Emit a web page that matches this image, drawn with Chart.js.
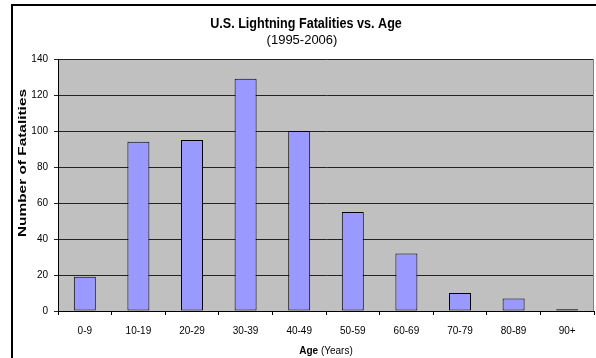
<!DOCTYPE html>
<html>
<head>
<meta charset="utf-8">
<script src="https://cdn.jsdelivr.net/npm/chart.js@4/dist/chart.umd.min.js"></script>
<style>
  html, body { margin: 0; padding: 0; background: #fff; }
  canvas { display: block; }
</style>
</head>
<body>
<canvas id="chart" width="596" height="358"></canvas>
<script>
// Lightning deaths in the U.S., 1995-2006, grouped by age band
const ageGroups = ['0-9', '10-19', '20-29', '30-39', '40-49', '50-59', '60-69', '70-79', '80-89', '90+'];
const fatalities = [19, 94, 95, 129, 100, 55, 32, 10, 7, 1];

const titleText = 'U.S. Lightning Fatalities vs. Age';
const subtitleText = '(1995-2006)';
const xTitleBold = 'Age';
const xTitleRest = ' (Years)';
const yTitleText = 'Number of Fatalities';

const FONT = '"Liberation Sans", Arial, sans-serif';

// Frame, grey plot background and all titles
const decorations = {
  id: 'decorations',
  beforeDraw(chart) {
    const { ctx, chartArea: a } = chart;
    ctx.save();
    ctx.fillStyle = '#fff';
    ctx.fillRect(0, 0, chart.width, chart.height);
    // outer chart frame
    ctx.strokeStyle = '#000';
    ctx.lineWidth = 2;
    ctx.strokeRect(12, 5, chart.width + 20, chart.height + 20);
    // plot area
    ctx.fillStyle = '#c0c0c0';
    ctx.fillRect(a.left, a.top, a.right - a.left, a.bottom - a.top);
    ctx.restore();
  },
  beforeDatasetsDraw(chart) {
    const { ctx, chartArea: a } = chart;
    ctx.save();
    ctx.strokeStyle = '#808080';
    ctx.lineWidth = 1;
    ctx.beginPath();
    ctx.moveTo(a.right - 0.5, a.top);
    ctx.lineTo(a.right - 0.5, a.bottom);
    ctx.stroke();
    ctx.restore();
  },
  afterDraw(chart) {
    const { ctx, chartArea: a } = chart;
    ctx.save();
    ctx.fillStyle = '#000';
    ctx.textAlign = 'center';
    ctx.textBaseline = 'alphabetic';

    // main title, slightly tall lettering
    ctx.save();
    ctx.translate(306, 28);
    ctx.scale(1, 1.15);
    ctx.font = 'bold 12.6px ' + FONT;
    ctx.fillText(titleText, 0, 0);
    ctx.restore();

    ctx.font = '13px ' + FONT;
    ctx.fillText(subtitleText, 302, 44);

    // x-axis title: bold word followed by regular unit
    ctx.font = 'bold 10px ' + FONT;
    const wBold = ctx.measureText(xTitleBold).width;
    ctx.font = '10px ' + FONT;
    const wRest = ctx.measureText(xTitleRest).width;
    const cx = (a.left + a.right) / 2;
    let x0 = cx - (wBold + wRest) / 2;
    ctx.textAlign = 'left';
    ctx.font = 'bold 10px ' + FONT;
    ctx.fillText(xTitleBold, x0, 354);
    ctx.font = '10px ' + FONT;
    ctx.fillText(xTitleRest, x0 + wBold, 354);

    // y-axis title, rotated and drawn in tall, narrow lettering
    ctx.save();
    ctx.translate(22.5, (a.top + a.bottom) / 2 - 22);
    ctx.rotate(-Math.PI / 2);
    ctx.scale(1.4, 1);
    ctx.textAlign = 'center';
    ctx.textBaseline = 'middle';
    ctx.font = 'bold 11px ' + FONT;
    ctx.fillText(yTitleText, 0, 0);
    ctx.restore();

    ctx.restore();
  }
};

new Chart(document.getElementById('chart'), {
  type: 'bar',
  data: {
    labels: ageGroups,
    datasets: [{
      data: fatalities,
      backgroundColor: '#9999ff',
      borderColor: '#000',
      borderWidth: 1,
      borderSkipped: false,
      barPercentage: 0.41,
      categoryPercentage: 1
    }]
  },
  options: {
    responsive: false,
    devicePixelRatio: 1,
    animation: false,
    layout: { padding: { left: 18, top: 59, right: 2, bottom: 0 } },
    plugins: {
      legend: { display: false },
      title: { display: false },
      tooltip: { enabled: false }
    },
    scales: {
      x: {
        afterFit(scale) { scale.height = 47; },
        grid: {
          offset: true,
          drawOnChartArea: false,
          drawTicks: true,
          tickLength: 4,
          color: '#000'
        },
        border: { display: true, color: '#000', width: 1 },
        ticks: {
          color: '#000',
          padding: 10,
          maxRotation: 0,
          autoSkip: false,
          font: { family: FONT, size: 10 }
        }
      },
      y: {
        min: 0,
        max: 140,
        afterFit(scale) { scale.width = 40; },
        grid: {
          color: '#222',
          tickLength: 4,
          drawTicks: true
        },
        border: { display: true, color: '#000', width: 1 },
        ticks: {
          stepSize: 20,
          color: '#000',
          padding: 6,
          font: { family: FONT, size: 10 }
        }
      }
    }
  },
  plugins: [decorations]
});
</script>
</body>
</html>
